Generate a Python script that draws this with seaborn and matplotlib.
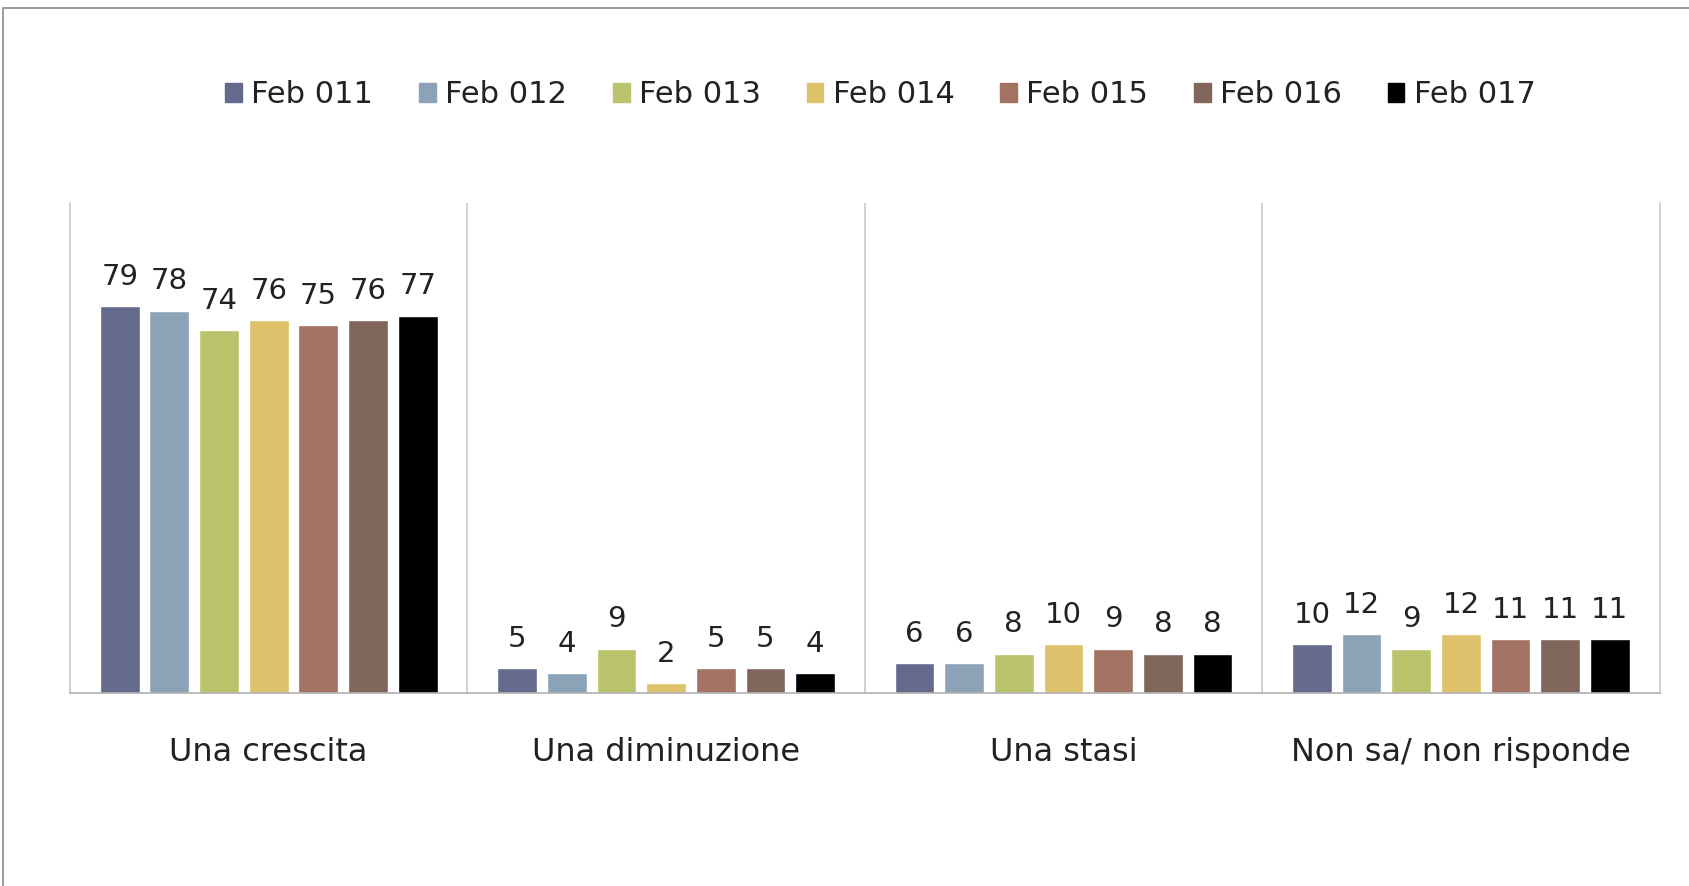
import matplotlib
matplotlib.use("Agg")
from matplotlib import pyplot as plt
from matplotlib.patches import Rectangle
import pandas as pd
import seaborn as sns

categories = ["Una crescita", "Una diminuzione", "Una stasi", "Non sa/ non risponde"]
series = ["Feb 011", "Feb 012", "Feb 013", "Feb 014", "Feb 015", "Feb 016", "Feb 017"]
feb011 = [79, 5, 6, 10]
feb012 = [78, 4, 6, 12]
feb013 = [74, 9, 8, 9]
feb014 = [76, 2, 10, 12]
feb015 = [75, 5, 9, 11]
feb016 = [76, 5, 8, 11]
feb017 = [77, 4, 8, 11]
colors = ["#636a8c", "#8ca3b7", "#bac36c", "#ddc26b", "#a27262", "#80655b", "#000000"]

values = [feb011, feb012, feb013, feb014, feb015, feb016, feb017]
rows = []
for s, vals in zip(series, values):
    for c, v in zip(categories, vals):
        rows.append({"Categoria": c, "Periodo": s, "Valore": v})
df = pd.DataFrame(rows)

sns.set_theme(style="white")
plt.rcParams['font.family'] = ['DejaVu Sans']

fig = plt.figure(figsize=(16.9, 8.86), dpi=100)
ax = fig.add_axes([0.0414, 0.218, 0.9406, 0.553])

sns.barplot(data=df, x="Categoria", y="Valore", hue="Periodo", palette=colors,
            width=0.875, gap=0.2, saturation=1, ax=ax, legend=False)

for cont in ax.containers:
    ax.bar_label(cont, fmt="%d", padding=11, fontsize=21, color="#222222")

ax.set_ylim(0, 100)
ax.set_xlim(-0.5, 3.5)
ax.set_yticks([])
ax.set_xlabel("")
ax.set_ylabel("")
ax.tick_params(axis="x", length=0, pad=32, labelsize=23, labelcolor="#222222")

for x in [0.5, 1.5, 2.5]:
    ax.axvline(x, color="#c8c8c8", lw=1.2)
for side in ["left", "right", "bottom"]:
    ax.spines[side].set_color("#b0b0b0")
    ax.spines[side].set_linewidth(1.2)
ax.spines["left"].set_color("#c8c8c8")
ax.spines["right"].set_color("#c8c8c8")
ax.spines["top"].set_visible(False)

handles = [Rectangle((0, 0), 1, 1, color=c) for c in colors]
fig.legend(handles, series, loc="center", bbox_to_anchor=(0.521, 0.893), ncol=7,
           frameon=False, fontsize=22, handlelength=0.55, handleheight=0.55,
           handletextpad=0.3, columnspacing=1.5, labelcolor="#222222")

fig.patches.append(Rectangle((0.002, -0.1), 1.2, 1.091, transform=fig.transFigure,
                             fill=False, edgecolor="#8a8a8a", lw=1.2))

fig.savefig("out.png", dpi=100)
